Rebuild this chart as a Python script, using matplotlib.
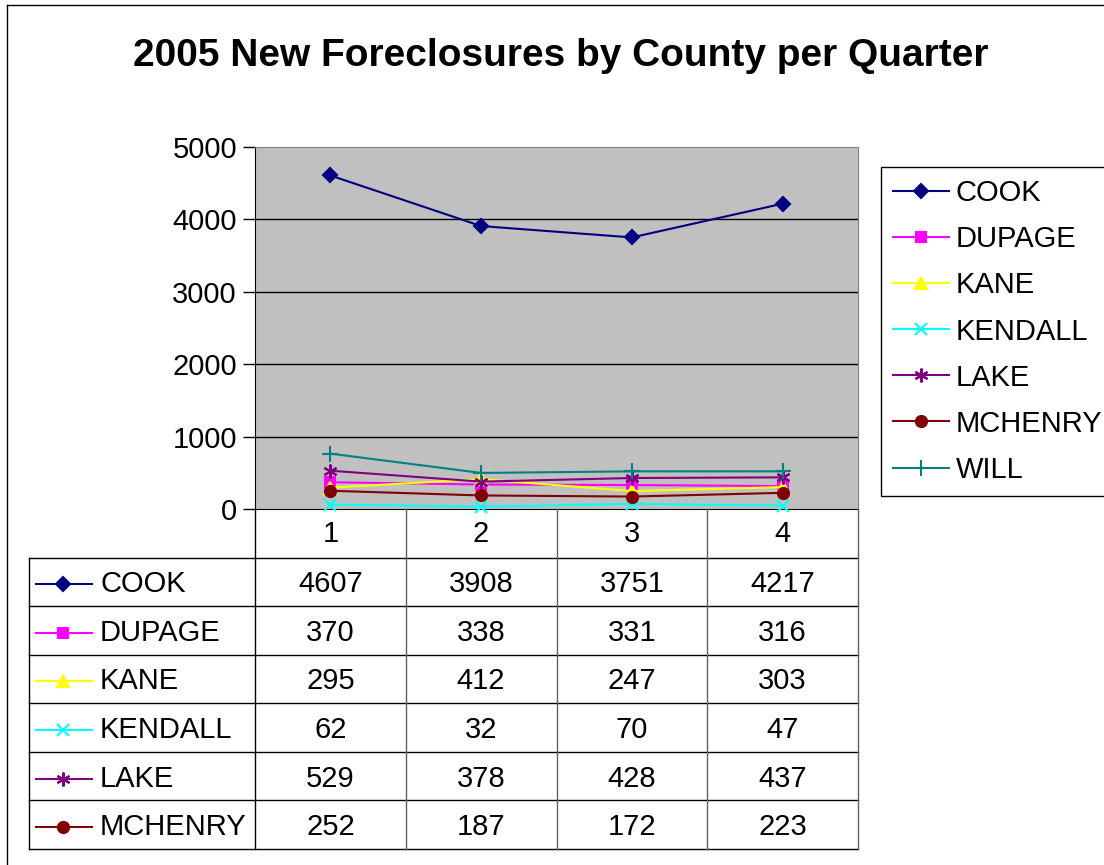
import numpy as np
import matplotlib
matplotlib.use("Agg")
import matplotlib.pyplot as plt
from matplotlib.lines import Line2D

plt.rcParams['font.family'] = ['Liberation Sans', 'DejaVu Sans']

# ---- data ----
quarters = [1, 2, 3, 4]
counties = ["COOK", "DUPAGE", "KANE", "KENDALL", "LAKE", "MCHENRY", "WILL"]
cook = [4607, 3908, 3751, 4217]
dupage = [370, 338, 331, 316]
kane = [295, 412, 247, 303]
kendall = [62, 32, 70, 47]
lake = [529, 378, 428, 437]
mchenry = [252, 187, 172, 223]
will = [765, 498, 520, 520]   # row cut off in the table
series = [cook, dupage, kane, kendall, lake, mchenry, will]

# ---- styles ----
colors = ["#000080", "#FF00FF", "#FFFF00", "#00FFFF", "#800080", "#800000", "#008080"]
markers = ["D", "s", "^", "x", (6, 2, 0), "o", "+"]
msizes = [7, 7, 8, 8, 10, 8, 11]

W, H = 1104, 865
FS = 21


def rect(x0, y0, x1, y1):
    # pixel box -> figure fraction
    return [x0 / W, 1 - y1 / H, (x1 - x0) / W, (y1 - y0) / H]


fig = plt.figure(figsize=(W / 100, H / 100), dpi=100)

# outer frame (open at right and bottom, as in the screenshot)
fig.add_artist(Line2D([7 / W, 7 / W], [0, 1 - 5 / H], color="black", lw=1))
fig.add_artist(Line2D([7 / W, 1], [1 - 5 / H, 1 - 5 / H], color="black", lw=1))

fig.text(561 / W, 1 - 56 / H, "2005 New Foreclosures by County per Quarter",
         ha="center", va="center", fontsize=28, fontweight="bold")

# ---- main plot ----
ax = fig.add_axes(rect(255, 147, 858, 509))
ax.set_facecolor("#C0C0C0")
ax.set_xlim(0.5, 4.5)
ax.set_ylim(0, 5000)
ax.set_yticks(np.arange(0, 5001, 1000))
ax.set_xticks([])
ax.tick_params(axis="y", direction="out", length=9, width=1, labelsize=FS, pad=4)
for y in range(1000, 5000, 1000):
    ax.axhline(y, color="black", lw=1, zorder=1)
for s in ["top", "right"]:
    ax.spines[s].set_color("#808080")
ax.spines["left"].set_color("black")
ax.spines["bottom"].set_color("black")

handles = []
for name, vals, c, m, ms in zip(counties, series, colors, markers, msizes):
    h, = ax.plot(quarters, vals, color=c, marker=m, markersize=ms, lw=1.5,
                 markerfacecolor=c, markeredgecolor=c, markeredgewidth=1.5,
                 clip_on=False, zorder=3, label=name)
    handles.append(h)

fig.legend(handles, counties, loc="upper left",
           bbox_to_anchor=(881 / W, 1 - 167 / H), borderaxespad=0,
           fontsize=FS, frameon=True, fancybox=False, edgecolor="black",
           framealpha=1, handlelength=1.9, handletextpad=0.25,
           labelspacing=0.62, borderpad=0.42)

# ---- data table under the plot ----
tab = fig.add_axes(rect(29, 509, 858, 849))
px_per_unit = (858 - 255) / 4.0
x_left = 0.5 - (255 - 29) / px_per_unit
tab.set_xlim(x_left, 4.5)
tab.set_ylim(7, 0)
tab.axis("off")


def px2x(px):
    return x_left + (px - 29) / px_per_unit


nrows = 6  # WILL row is cut off in the original
for r in range(1, nrows + 2):
    tab.plot([x_left, 4.5], [r, r], color="black", lw=1, clip_on=False)
tab.plot([0.5, 0.5], [0, 7], color="black", lw=1, clip_on=False)
tab.plot([4.5, 4.5], [0, 7], color="#606060", lw=1, clip_on=False)
tab.plot([x_left, x_left], [1, 7], color="black", lw=1, clip_on=False)
for xb in [1.5, 2.5, 3.5]:
    tab.plot([xb, xb], [0, 7], color="#606060", lw=1, clip_on=False)

for q in quarters:
    tab.text(q, 0.52, str(q), ha="center", va="center", fontsize=FS)

for r in range(nrows):
    yc = r + 1.55
    tab.plot([px2x(36), px2x(92)], [yc, yc], color=colors[r], lw=1.5, clip_on=False)
    tab.plot([px2x(63)], [yc], marker=markers[r], markersize=msizes[r],
             color=colors[r], markeredgewidth=1.5, clip_on=False)
    tab.text(px2x(100), yc, counties[r], ha="left", va="center", fontsize=FS)
    for q, v in zip(quarters, series[r]):
        tab.text(q, yc, str(v), ha="center", va="center", fontsize=FS)

fig.savefig("out.png", dpi=100)
